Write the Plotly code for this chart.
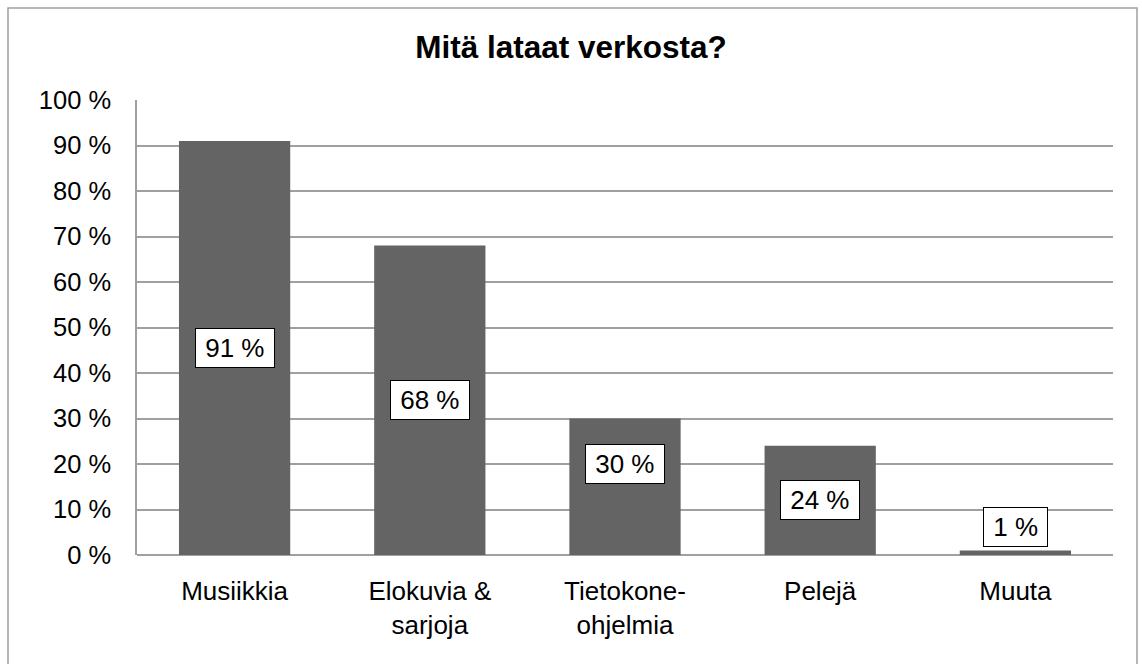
import plotly.graph_objects as go

categories = ["Musiikkia", "Elokuvia &<br>sarjoja", "Tietokone-<br>ohjelmia", "Pelejä", "Muuta"]
values = [91, 68, 30, 24, 1]
tick_vals = [0, 10, 20, 30, 40, 50, 60, 70, 80, 90, 100]
tick_text = [f"{v} %" for v in tick_vals]
title_text = "Mitä lataat verkosta?"

FONT = "Liberation Sans, Arial, sans-serif"
W, H = 1142, 664
L, R, T, B = 137, 29, 100, 109

fig = go.Figure()
fig.add_trace(go.Bar(
    x=categories, y=values,
    marker=dict(color="#646464", line=dict(width=0)),
    width=0.57,
    hoverinfo="x+y",
))

# data labels (boxed), placed mostly at bar centre
label_yshift = [0, 0, 23, 0, 0]
for c, v, ys in zip(categories, values, label_yshift):
    small = v < 5
    fig.add_annotation(
        x=c, y=(v if small else v / 2), xref="x", yref="y",
        text=f"\u00a0{v} %\u00a0", showarrow=False,
        font=dict(family=FONT, size=26, color="black"),
        bgcolor="white", bordercolor="black", borderwidth=1, borderpad=2,
        height=34,
        yanchor=("bottom" if small else "middle"),
        yshift=(3 if small else ys),
    )

pw = W - L - R
ph = H - T - B
fig.add_shape(
    type="rect", xref="paper", yref="paper",
    x0=(8 - L) / pw, x1=(1137 - L) / pw,
    y0=(H - B - 670) / ph, y1=(H - B - 8) / ph,
    line=dict(color="#a0a0a0", width=1.5), fillcolor="rgba(0,0,0,0)", layer="below",
)

fig.update_layout(
    width=W, height=H,
    margin=dict(l=L, r=R, t=T, b=B),
    paper_bgcolor="white", plot_bgcolor="white",
    showlegend=False,
    bargap=0.43,
    title=dict(
        text=f"<b>{title_text}</b>", x=0.5, xanchor="center",
        xref="container",
        y=1 - 47 / H, yref="container", yanchor="middle",
        font=dict(family=FONT, size=31.5, color="black"),
    ),
    font=dict(family=FONT, color="black"),
)
fig.update_xaxes(
    showgrid=False, showline=False, zeroline=False,
    tickfont=dict(family=FONT, size=26, color="black"),
    ticks="", ticklabelstandoff=18,
)
fig.update_yaxes(
    range=[0, 100], tickvals=tick_vals, ticktext=tick_text,
    showgrid=True, gridcolor="#a0a0a0", gridwidth=1.5,
    showline=True, linecolor="#a0a0a0", linewidth=1.5,
    zeroline=True, zerolinecolor="#a0a0a0", zerolinewidth=1.5,
    tickfont=dict(family=FONT, size=25.5, color="black"),
    ticks="", ticklabelstandoff=19,
)

fig.write_html(
    "out.html",
    config={"displayModeBar": False},
    post_script="document.body.style.margin='0';",
)
